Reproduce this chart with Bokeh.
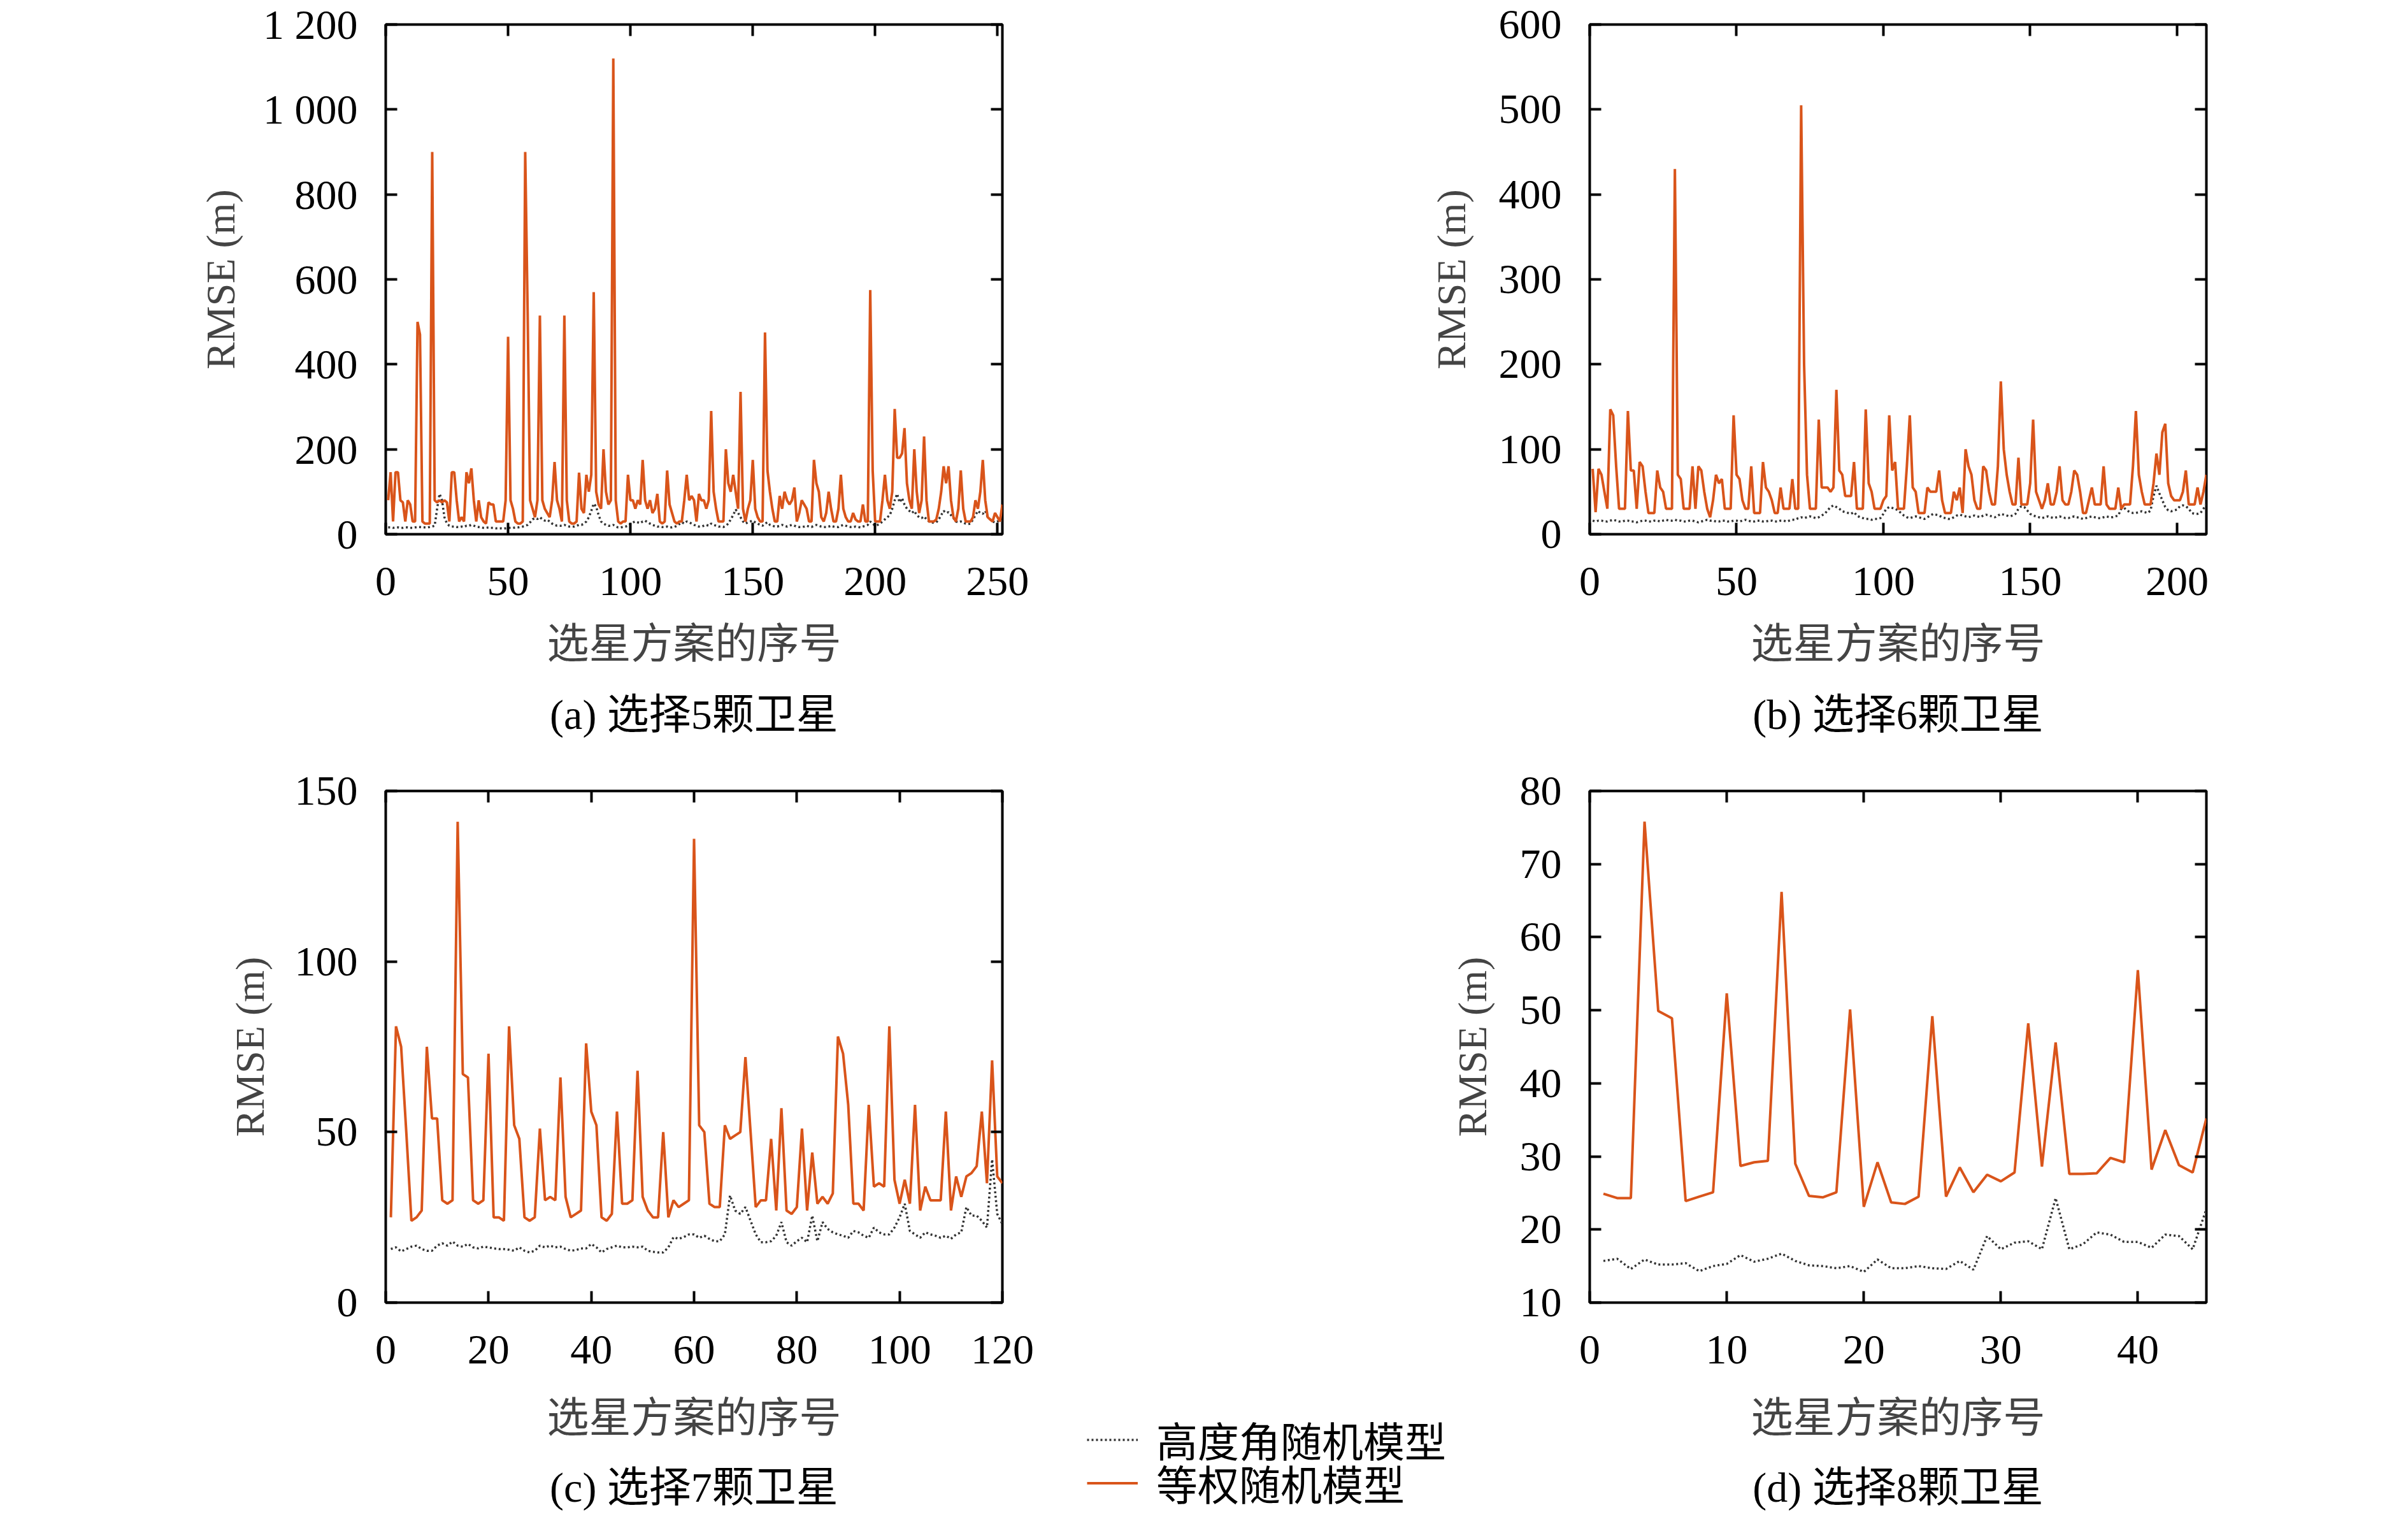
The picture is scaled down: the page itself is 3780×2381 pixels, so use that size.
from bokeh.plotting import figure
from bokeh.models import Range1d, LinearAxis, FixedTicker, Legend, LegendItem
from bokeh.layouts import column, row
from bokeh.embed import file_html
from bokeh.resources import INLINE

# ---------------- data ----------------
# (a) 5 satellites, 252 schemes
a_equal = [
    80, 146, 30, 146, 146, 80, 75, 30, 80, 70,
    30, 30, 500, 470, 30, 25, 25, 25, 900, 80,
    75, 80, 75, 80, 75, 30, 146, 146, 80, 30,
    40, 30, 146, 120, 155, 80, 30, 80, 40, 30,
    25, 75, 70, 70, 30, 30, 30, 30, 80, 465,
    80, 60, 30, 25, 25, 30, 900, 520, 80, 60,
    40, 80, 515, 80, 60, 50, 40, 80, 170, 80,
    60, 30, 515, 80, 30, 25, 25, 30, 145, 60,
    50, 140, 100, 140, 570, 100, 70, 60, 200, 100,
    70, 80, 1120, 80, 30, 25, 30, 30, 140, 80,
    80, 60, 80, 70, 175, 80, 60, 80, 50, 60,
    95, 30, 25, 30, 150, 70, 50, 30, 25, 30,
    30, 80, 140, 80, 90, 80, 30, 95, 80, 80,
    60, 80, 290, 100, 60, 30, 30, 30, 200, 120,
    100, 140, 100, 60, 335, 60, 30, 60, 80, 175,
    60, 40, 30, 30, 475, 150, 100, 60, 30, 30,
    90, 60, 100, 80, 70, 80, 110, 30, 50, 80,
    70, 60, 30, 30, 175, 120, 100, 40, 30, 50,
    100, 60, 30, 30, 60, 140, 60, 40, 30, 30,
    50, 35, 30, 30, 70, 30, 30, 575, 150, 30,
    30, 30, 80, 140, 80, 60, 100, 295, 180, 180,
    190, 250, 120, 80, 60, 200, 100, 50, 80, 230,
    80, 30, 30, 30, 35, 60, 100, 160, 120, 160,
    80, 40, 30, 60, 150, 60, 30, 30, 30, 40,
    80, 60, 100, 175, 80, 40, 35, 30, 50, 40,
    30, 70,
]
a_elev = [
    16, 16, 15, 16, 16, 15, 15, 16, 16, 15,
    15, 16, 17, 17, 16, 16, 16, 17, 18, 20,
    60, 95, 80, 40, 25, 20, 18, 18, 17, 17,
    18, 17, 20, 20, 22, 20, 18, 17, 16, 15,
    15, 16, 15, 15, 14, 14, 14, 13, 14, 15,
    15, 15, 16, 16, 17, 18, 20, 22, 28, 35,
    38, 36, 40, 35, 32, 34, 30, 25, 22, 20,
    20, 20, 22, 20, 18, 18, 18, 20, 22, 22,
    25, 30, 40, 55, 72, 65, 45, 30, 25, 22,
    20, 20, 22, 18, 16, 16, 17, 18, 20, 24,
    28, 30, 28, 26, 30, 32, 28, 25, 22, 20,
    18, 18, 17, 17, 18, 16, 16, 17, 20, 24,
    28, 25, 30, 28, 25, 22, 20, 18, 18, 20,
    22, 20, 25, 22, 20, 18, 18, 17, 20, 25,
    35, 45, 58, 50, 40, 30, 25, 28, 30, 32,
    28, 25, 22, 20, 25, 28, 22, 20, 18, 18,
    20, 22, 20, 18, 20, 22, 20, 18, 17, 17,
    18, 20, 18, 17, 20, 22, 20, 18, 17, 17,
    18, 20, 18, 17, 17, 20, 22, 20, 18, 17,
    17, 18, 17, 16, 18, 20, 22, 30, 25, 20,
    22, 25, 30, 35, 40, 45, 60, 80, 95, 75,
    85, 70, 60, 55, 50, 55, 45, 40, 38, 42,
    35, 30, 28, 27, 28, 35, 45, 55, 50, 52,
    45, 38, 30, 28, 30, 28, 25, 24, 25, 35,
    45, 55, 50, 48, 55, 40, 35, 30, 28, 30,
    32, 30,
]

# (b) 6 satellites, 210 schemes
b_equal = [
    77, 26, 77, 70, 50, 30, 147, 140, 80, 30,
    30, 30, 145, 75, 75, 30, 85, 80, 50, 25,
    25, 25, 75, 55, 50, 30, 30, 30, 430, 70,
    65, 30, 30, 30, 80, 30, 80, 75, 50, 30,
    20, 40, 70, 60, 65, 30, 30, 30, 140, 70,
    65, 40, 30, 30, 80, 25, 25, 25, 85, 55,
    50, 40, 25, 25, 55, 30, 30, 30, 65, 30,
    30, 505, 200, 70, 30, 30, 30, 135, 55, 55,
    55, 50, 55, 170, 75, 70, 45, 45, 45, 85,
    30, 30, 30, 147, 60, 50, 30, 30, 30, 40,
    45, 140, 75, 85, 30, 30, 30, 80, 140, 55,
    50, 25, 25, 25, 55, 50, 50, 50, 75, 40,
    25, 25, 25, 50, 40, 55, 25, 100, 80, 70,
    40, 30, 30, 80, 75, 50, 35, 35, 80, 180,
    100, 70, 50, 35, 35, 90, 35, 35, 35, 60,
    135, 50, 40, 30, 40, 60, 35, 35, 50, 80,
    40, 35, 35, 50, 75, 70, 50, 25, 25, 40,
    55, 35, 35, 35, 80, 35, 30, 30, 30, 55,
    30, 35, 35, 35, 80, 145, 70, 50, 35, 35,
    35, 60, 95, 70, 120, 130, 60, 45, 40, 40,
    40, 50, 75, 35, 35, 35, 55, 35, 50, 70,
]
b_elev = [
    16, 15, 16, 16, 15, 15, 16, 17, 16, 15,
    15, 16, 16, 15, 15, 14, 15, 16, 16, 15,
    15, 16, 16, 15, 16, 17, 16, 16, 17, 16,
    16, 15, 15, 16, 16, 15, 14, 15, 16, 17,
    16, 16, 15, 15, 16, 16, 15, 15, 16, 16,
    15, 16, 17, 16, 15, 15, 16, 16, 15, 15,
    16, 16, 15, 15, 16, 16, 15, 16, 17, 17,
    19, 20, 19, 20, 21, 20, 19, 20, 22, 24,
    28, 32, 34, 32, 30, 27, 26, 25, 24, 26,
    22, 20, 19, 18, 18, 17, 18, 18, 19, 24,
    30, 32, 31, 30, 28, 25, 22, 20, 19, 20,
    21, 20, 19, 18, 20, 22, 24, 23, 22, 20,
    19, 18, 18, 20, 22, 23, 22, 21, 20, 21,
    22, 21, 20, 22, 23, 22, 21, 20, 22, 24,
    23, 22, 21, 22, 24, 30, 33, 32, 28, 24,
    22, 21, 20, 19, 20, 21, 20, 19, 20, 21,
    20, 19, 19, 20, 21, 20, 19, 18, 19, 20,
    21, 20, 19, 19, 20, 21, 20, 20, 21, 22,
    30, 31, 28, 26, 25, 25, 26, 27, 26, 25,
    28, 45, 57, 48, 40, 32, 28, 27, 28, 29,
    33, 34, 33, 30, 25, 24, 24, 25, 30, 35,
]

# (c) 7 satellites, 120 schemes
c_equal = [
    25, 81, 75, 50, 24, 25, 27, 75, 54, 54,
    30, 29, 30, 141, 67, 66, 30, 29, 30, 73,
    25, 25, 24, 81, 52, 48, 25, 24, 25, 51,
    30, 31, 30, 66, 31, 25, 26, 27, 76, 56,
    52, 25, 24, 26, 56, 29, 29, 30, 68, 31,
    27, 25, 25, 50, 25, 30, 28, 29, 30, 136,
    52, 50, 29, 28, 28, 52, 48, 49, 50, 72,
    50, 28, 30, 30, 48, 27, 57, 27, 26, 28,
    51, 27, 44, 29, 31, 29, 32, 78, 73, 58,
    29, 29, 27, 58, 34, 35, 34, 81, 36, 29,
    36, 29, 58, 27, 34, 30, 30, 30, 56, 27,
    37, 31, 37, 38, 40, 56, 35, 71, 37, 35,
]
c_elev = [
    15.7, 16.2, 15.0, 15.7, 16.4, 16.7, 15.7, 15.2, 15.2, 16.7,
    17.4, 16.7, 17.9, 16.7, 16.4, 17.2, 16.2, 15.9, 16.4, 16.2,
    15.9, 15.7, 15.7, 15.5, 15.2, 16.2, 15.2, 14.7, 15.2, 16.7,
    16.2, 16.7, 16.2, 16.4, 15.7, 15.2, 15.4, 15.9, 15.9, 17.2,
    16.2, 14.7, 15.7, 16.2, 16.7, 16.2, 16.2, 16.4, 16.2, 16.4,
    15.2, 14.9, 14.7, 14.7, 16.2, 19.2, 18.7, 19.2, 20.0, 20.0,
    19.0, 19.6, 18.7, 18.0, 18.0, 20.0, 31.4, 27.0, 26.0, 28.0,
    24.0, 20.0, 17.7, 17.7, 18.0, 19.6, 23.6, 17.7, 16.7, 18.0,
    19.0, 17.7, 25.5, 18.0, 23.6, 21.6, 20.6, 20.0, 19.6, 19.0,
    21.0, 20.6, 19.6, 19.0, 22.0, 20.6, 20.0, 20.0, 22.0, 25.0,
    29.0, 21.0, 20.0, 19.0, 20.6, 20.0, 19.6, 19.0, 19.6, 18.7,
    20.0, 20.6, 28.0, 25.5, 25.5, 24.0, 22.0, 42.0, 26.0, 23.0,
]

# (d) 8 satellites, 45 schemes
d_equal = [
    24.9, 24.3, 24.3, 75.8, 49.9, 48.9, 23.9, 24.5, 25.1, 52.3,
    28.7, 29.2, 29.4, 66.2, 29.0, 24.6, 24.4, 25.1, 50.1, 23.1,
    29.2, 23.7, 23.5, 24.5, 49.2, 24.5, 28.5, 25.1, 27.5, 26.6,
    27.8, 48.2, 28.6, 45.6, 27.6, 27.6, 27.7, 29.8, 29.2, 55.5,
    28.2, 33.6, 28.8, 27.8, 35.2,
]
d_elev = [
    15.7, 16.0, 14.6, 15.9, 15.2, 15.2, 15.4, 14.3, 15.0, 15.3,
    16.5, 15.6, 16.0, 16.7, 15.7, 15.1, 15.0, 14.7, 15.0, 14.2,
    15.9, 14.7, 14.7, 15.0, 14.7, 14.6, 15.7, 14.5, 19.1, 17.3,
    18.2, 18.4, 17.3, 24.3, 17.3, 18.0, 19.6, 19.3, 18.3, 18.3,
    17.5, 19.3, 19.1, 17.3, 22.8,
]

a_yticks = [0, 200, 400, 600, 800, 1000, 1200]
a_ylabels = {0: "0", 200: "200", 400: "400", 600: "600", 800: "800",
             1000: "1 000", 1200: "1 200"}
b_yticks = [0, 100, 200, 300, 400, 500, 600]
c_yticks = [0, 50, 100, 150]
d_yticks = [10, 20, 30, 40, 50, 60, 70, 80]
a_xticks = [0, 50, 100, 150, 200, 250]
b_xticks = [0, 50, 100, 150, 200]
c_xticks = [0, 20, 40, 60, 80, 100, 120]
d_xticks = [0, 10, 20, 30, 40]

x_label = "选星方案的序号"
y_label = "RMSE (m)"
captions = ["(a) 选择5颗卫星", "(b) 选择6颗卫星", "(c) 选择7颗卫星", "(d) 选择8颗卫星"]
legend_labels = ["高度角随机模型", "等权随机模型"]

# ---------------- style ----------------
ORANGE = "#d9541a"
GRAY = "#333333"
SERIF = "Liberation Serif"
MIX = "'Liberation Serif', 'Noto Sans CJK SC', serif"
BG = "#ffffff"
FRAME_W = 968
LW_EQ = 4
LW_EL = 3.5


def style_axis(ax, ticks, standoff, show_labels=True, overrides=None):
    ax.ticker = FixedTicker(ticks=ticks)
    ax.major_tick_in = 18
    ax.major_tick_out = 0
    ax.minor_tick_in = 0
    ax.minor_tick_out = 0
    ax.major_tick_line_width = 4
    ax.major_tick_line_color = "black"
    ax.axis_line_color = None
    ax.major_label_text_font = SERIF
    if show_labels:
        ax.major_label_text_color = "black"
        ax.major_label_text_font_size = "66px"
        ax.major_label_standoff = standoff
    else:
        ax.major_label_text_color = None
        ax.major_label_text_font_size = "1px"
        ax.major_label_standoff = 0
    if overrides:
        ax.major_label_overrides = overrides


def panel(elev, equal, xmax, yr, xticks, yticks, width, height, bl, br, bt, bb,
          ylab_standoff, caption, xlab_standoff, cap_standoff, yover=None):
    xs = list(range(1, len(equal) + 1))
    p = figure(width=width, height=height,
               x_range=Range1d(0, xmax), y_range=Range1d(*yr),
               output_backend="svg", toolbar_location=None,
               min_border_left=bl, min_border_right=br,
               min_border_top=bt, min_border_bottom=bb)
    p.grid.visible = False
    p.background_fill_color = BG
    p.border_fill_color = BG
    p.outline_line_color = "black"
    p.outline_line_width = 4
    p.line(xs, elev, line_color=GRAY, line_width=LW_EL, line_dash="3 4")
    p.line(xs, equal, line_color=ORANGE, line_width=LW_EQ)

    style_axis(p.xaxis[0], xticks, 52)
    style_axis(p.yaxis[0], yticks, 44, overrides=yover)
    p.xaxis.axis_label = x_label
    p.xaxis.axis_label_text_font = MIX
    p.xaxis.axis_label_text_font_size = "66px"
    p.xaxis.axis_label_text_font_style = "normal"
    p.xaxis.axis_label_standoff = xlab_standoff
    p.yaxis.axis_label = y_label
    p.yaxis.axis_label_text_font = SERIF
    p.yaxis.axis_label_text_font_size = "64px"
    p.yaxis.axis_label_text_font_style = "normal"
    p.yaxis.axis_label_standoff = ylab_standoff

    top = LinearAxis()
    style_axis(top, xticks, 0, show_labels=False)
    p.add_layout(top, "above")
    rgt = LinearAxis()
    style_axis(rgt, yticks, 0, show_labels=False)
    p.add_layout(rgt, "right")

    # sub-figure caption, set as the label of a tick-less axis under the x axis
    cap = LinearAxis(ticker=FixedTicker(ticks=[]), axis_label=caption)
    cap.axis_line_color = None
    cap.major_tick_line_color = None
    cap.minor_tick_line_color = None
    cap.major_tick_in = 0
    cap.major_tick_out = 0
    cap.minor_tick_in = 0
    cap.minor_tick_out = 0
    cap.major_label_standoff = 0
    cap.major_label_text_color = None
    cap.major_label_text_font_size = "1px"
    cap.axis_label_text_font = MIX
    cap.axis_label_text_font_size = "66px"
    cap.axis_label_text_font_style = "normal"
    cap.axis_label_text_color = "black"
    cap.axis_label_standoff = cap_standoff
    p.add_layout(cap, "below")
    return p


# layout sizes (screen px)
H1, BT1, BB1 = 1193, 38, 355
H2, BT2, BB2 = 1181, 48, 330
BL_A = 605
W_A = BL_A + FRAME_W + 325
W_C = BL_A + FRAME_W + 87
W_LEG = 611
BL_D = 224

pa = panel(a_elev, a_equal, 252, (0, 1200), a_xticks, a_yticks,
           W_A, H1, BL_A, 325, BT1, BB1, 28, captions[0], 37, 35, a_ylabels)
pb = panel(b_elev, b_equal, 210, (0, 600), b_xticks, b_yticks,
           597 + FRAME_W + 200, H1, 597, 200, BT1, BB1, 36, captions[1], 37, 35)
pc = panel(c_elev, c_equal, 120, (0, 150), c_xticks, c_yticks,
           W_C, H2, BL_A, 87, BT2, BB2, 32, captions[2], 46, 33)
pd = panel(d_elev, d_equal, 45, (10, 80), d_xticks, d_yticks,
           BL_D + FRAME_W + 200, H2, BL_D, 200, BT2, BB2, 36, captions[3], 46, 33)

# legend panel between (c) and (d); its sample lines use (c)'s data but the
# ranges keep them out of view, so only the legend entries show
c_x = list(range(1, len(c_equal) + 1))
pl = figure(width=W_LEG, height=H2, output_backend="svg", toolbar_location=None,
            x_axis_type=None, y_axis_type=None,
            min_border_left=0, min_border_right=0,
            min_border_top=0, min_border_bottom=0,
            x_range=Range1d(0, 1), y_range=Range1d(-2, -1))
pl.grid.visible = False
pl.outline_line_color = None
pl.background_fill_color = BG
pl.border_fill_color = BG
lr1 = pl.line(c_x, c_elev, line_color=GRAY, line_width=LW_EL, line_dash="3 4")
lr2 = pl.line(c_x, c_equal, line_color=ORANGE, line_width=LW_EQ)


def one_legend(label, rend, y):
    return Legend(items=[LegendItem(label=label, renderers=[rend])],
                  location=(46, y), orientation="vertical",
                  border_line_color=None, background_fill_alpha=0,
                  padding=0, margin=0, spacing=0,
                  glyph_width=80, glyph_height=65, label_height=65,
                  label_standoff=29, label_text_font=MIX,
                  label_text_font_size="65px", label_text_color="black")


pl.add_layout(one_legend(legend_labels[0], lr1, 68))
pl.add_layout(one_legend(legend_labels[1], lr2, 0))

layout = column(row(pa, pb), row(pc, column(pl), pd))

with open("out.html", "w") as f:
    f.write(file_html(layout, INLINE))
